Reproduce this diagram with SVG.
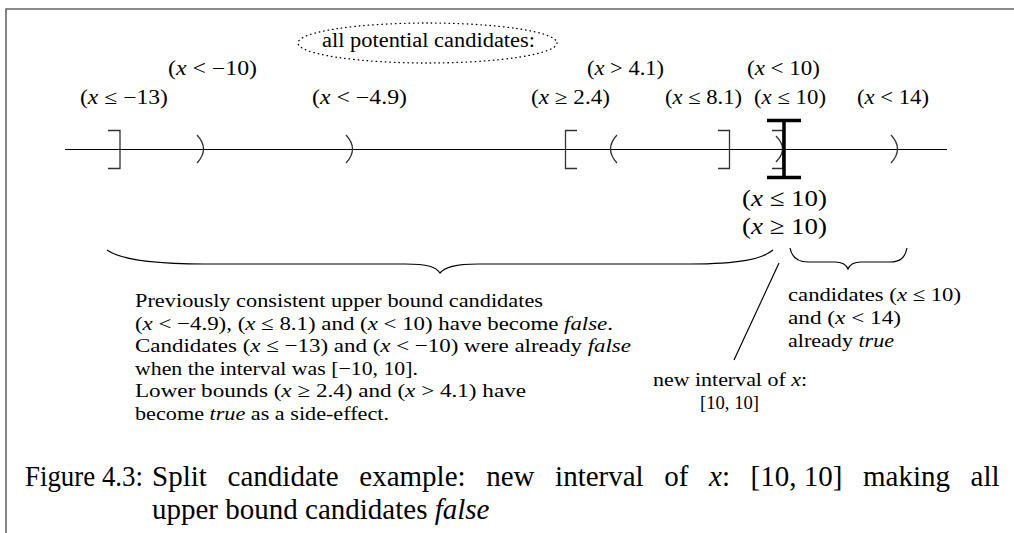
<svg xmlns="http://www.w3.org/2000/svg" width="1014" height="533" viewBox="0 0 1014 533">
<style>
text{font-family:"Liberation Serif","DejaVu Serif",serif;fill:#000}
.lbl{font-size:20px}
.big{font-size:24px}
.body{font-size:19.5px}
.cap{font-size:29px}
.i{font-style:italic}
.br{fill:none;stroke:#333;stroke-width:1.3}
.ln{fill:none;stroke:#000;stroke-width:1.2}
.beam{fill:none;stroke:#000;stroke-width:3.5}
</style>
<rect width="1014" height="533" fill="#fff"/>
<path d="M6,533 V9 H1014" fill="none" stroke="#666" stroke-width="1.6"/>

<g id="axis"><path class="ln" d="M65,149.5 H947"/></g>

<g id="title-ellipse">
<ellipse cx="427.5" cy="43" rx="129.5" ry="20" fill="none" stroke="#000" stroke-width="1.3" stroke-dasharray="0.5 4" stroke-linecap="round"/>
<text class="lbl" x="322" y="47" textLength="213" lengthAdjust="spacingAndGlyphs">all potential candidates:</text>
</g>

<g id="c-le-m13">
<path class="br" d="M108,130.5 H120 V168.5 H108"/>
<text class="lbl" x="80" y="104" textLength="88" lengthAdjust="spacingAndGlyphs">(<tspan class="i">x</tspan> ≤ −13)</text>
</g>
<g id="c-lt-m10">
<path class="br" d="M197,135 Q210,149 197,163"/>
<text class="lbl" x="168" y="75" textLength="89" lengthAdjust="spacingAndGlyphs">(<tspan class="i">x</tspan> &lt; −10)</text>
</g>
<g id="c-lt-m49">
<path class="br" d="M346,135 Q359,149 346,163"/>
<text class="lbl" x="312" y="104" textLength="95" lengthAdjust="spacingAndGlyphs">(<tspan class="i">x</tspan> &lt; −4.9)</text>
</g>
<g id="c-ge-24">
<path class="br" d="M577,130.5 H565.5 V168.5 H577"/>
<text class="lbl" x="531" y="104" textLength="79" lengthAdjust="spacingAndGlyphs">(<tspan class="i">x</tspan> ≥ 2.4)</text>
</g>
<g id="c-gt-41">
<path class="br" d="M617,135 Q604,149 617,163"/>
<text class="lbl" x="587" y="75" textLength="77" lengthAdjust="spacingAndGlyphs">(<tspan class="i">x</tspan> &gt; 4.1)</text>
</g>
<g id="c-le-81">
<path class="br" d="M718,130.5 H729.5 V168.5 H718"/>
<text class="lbl" x="665" y="104" textLength="77" lengthAdjust="spacingAndGlyphs">(<tspan class="i">x</tspan> ≤ 8.1)</text>
</g>
<g id="c-lt-10">
<path class="br" d="M776,136 Q789,149 776,162"/>
<text class="lbl" x="747" y="75" textLength="73" lengthAdjust="spacingAndGlyphs">(<tspan class="i">x</tspan> &lt; 10)</text>
</g>
<g id="c-le-10">
<path class="br" d="M772,130.5 H783 V168.5 H772"/>
<text class="lbl" x="754" y="104" textLength="72" lengthAdjust="spacingAndGlyphs">(<tspan class="i">x</tspan> ≤ 10)</text>
</g>
<g id="c-lt-14">
<path class="br" d="M891,135 Q904,149 891,163"/>
<text class="lbl" x="857" y="104" textLength="72" lengthAdjust="spacingAndGlyphs">(<tspan class="i">x</tspan> &lt; 14)</text>
</g>

<g id="new-interval">
<path class="beam" d="M784,119 V179 M767,120.5 H801 M767,177.5 H801"/>
<text class="big" x="742" y="206" textLength="85" lengthAdjust="spacingAndGlyphs">(<tspan class="i">x</tspan> ≤ 10)</text>
<text class="big" x="742" y="234" textLength="85" lengthAdjust="spacingAndGlyphs">(<tspan class="i">x</tspan> ≥ 10)</text>
</g>

<g id="connectors">
<path class="ln" d="M107,250 C122,261 160,264 205,264 L405,264 C428,264 436,267 440,273 C445,267 455,264 478,264 L690,264 C740,264 762,259 773,250"/>
<path class="ln" d="M790,248 C792,258 798,262 808,262 L835,262 C842,262 846,264 848,269 C850,264 854,262 861,262 L890,262 C900,262 905,258 907,248"/>
<path class="ln" d="M779,263 L734,360"/>
</g>

<g id="note-left">
<text class="body" x="135" y="307" textLength="408" lengthAdjust="spacingAndGlyphs">Previously consistent upper bound candidates</text>
<text class="body" x="135" y="329.5" textLength="478" lengthAdjust="spacingAndGlyphs">(<tspan class="i">x</tspan> &lt; −4.9), (<tspan class="i">x</tspan> ≤ 8.1) and (<tspan class="i">x</tspan> &lt; 10) have become <tspan class="i">false</tspan>.</text>
<text class="body" x="135" y="352" textLength="496" lengthAdjust="spacingAndGlyphs">Candidates (<tspan class="i">x</tspan> ≤ −13) and (<tspan class="i">x</tspan> &lt; −10) were already <tspan class="i">false</tspan></text>
<text class="body" x="135" y="374.5" textLength="283" lengthAdjust="spacingAndGlyphs">when the interval was [−10, 10].</text>
<text class="body" x="135" y="397" textLength="391" lengthAdjust="spacingAndGlyphs">Lower bounds (<tspan class="i">x</tspan> ≥ 2.4) and (<tspan class="i">x</tspan> &gt; 4.1) have</text>
<text class="body" x="135" y="419.5" textLength="254" lengthAdjust="spacingAndGlyphs">become <tspan class="i">true</tspan> as a side-effect.</text>
</g>

<g id="note-right">
<text class="body" x="788" y="301" textLength="173" lengthAdjust="spacingAndGlyphs">candidates (<tspan class="i">x</tspan> ≤ 10)</text>
<text class="body" x="788" y="324" textLength="113" lengthAdjust="spacingAndGlyphs">and (<tspan class="i">x</tspan> &lt; 14)</text>
<text class="body" x="788" y="347" textLength="106" lengthAdjust="spacingAndGlyphs">already <tspan class="i">true</tspan></text>
</g>

<g id="note-interval">
<text class="body" x="653" y="386" textLength="154" lengthAdjust="spacingAndGlyphs">new interval of <tspan class="i">x</tspan>:</text>
<text class="body" x="700" y="409" textLength="59" lengthAdjust="spacingAndGlyphs">[10, 10]</text>
</g>

<g id="caption">
<text class="cap" x="25" y="486" textLength="118" lengthAdjust="spacingAndGlyphs">Figure 4.3:</text>
<text class="cap" y="486"><tspan x="152">Split</tspan><tspan x="227.6">candidate</tspan><tspan x="359.3">example:</tspan><tspan x="486.2">new</tspan><tspan x="555.1">interval</tspan><tspan x="664.3">of</tspan><tspan x="709.1" class="i">x</tspan><tspan>:</tspan><tspan x="750.6">[10, 10]</tspan><tspan x="863">making</tspan><tspan x="970.6">all</tspan></text>
<text class="cap" y="519"><tspan x="152">upper bound candidates </tspan><tspan class="i">false</tspan></text>
</g>
</svg>
